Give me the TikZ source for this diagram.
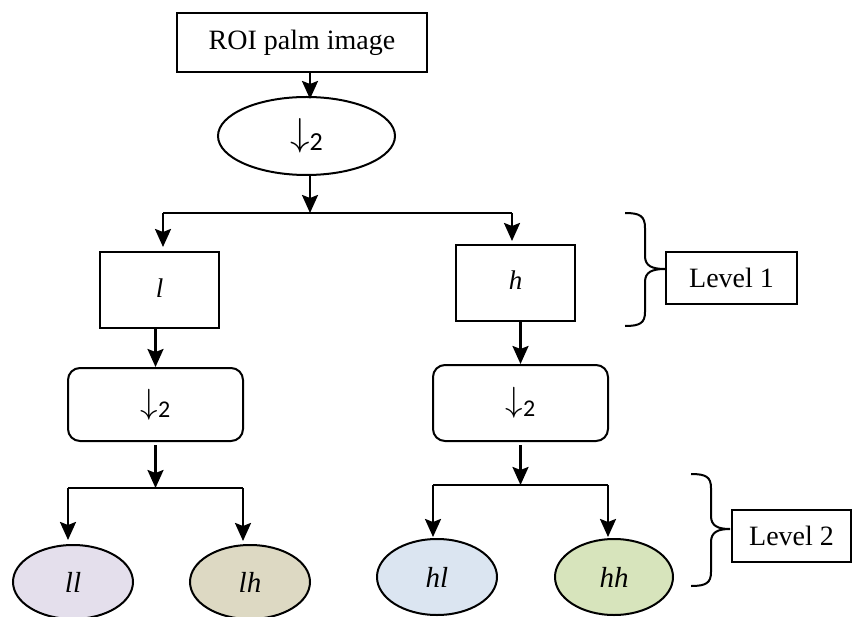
\RequirePackage{fix-cm}
\documentclass[tikz,border=0pt]{standalone}
\usepackage{fontspec}
\setmainfont{Liberation Serif}
\newfontfamily\subfont{Carlito}
\usetikzlibrary{arrows.meta,shapes.geometric,calc}
\definecolor{cll}{HTML}{E4DFEC}
\definecolor{clh}{HTML}{DDD9C3}
\definecolor{chl}{HTML}{DBE5F1}
\definecolor{chh}{HTML}{D7E4BC}
\newcommand{\dsamp}[2]{{\fontsize{#1}{#1}\selectfont$\downarrow$}\raisebox{-0.45em}{\subfont\fontsize{#2}{#2}\selectfont 2}}
\begin{document}
\begin{tikzpicture}[x=1pt,y=-1pt,
  boxst/.style={draw,line width=2pt,rectangle,inner sep=0pt,font=\fontsize{28}{32}\selectfont},
  rbox/.style={draw,line width=2pt,rectangle,rounded corners=12pt,inner sep=0pt},
  ell/.style={draw,line width=2pt,ellipse,inner sep=0pt,font=\fontsize{29}{34}\selectfont\itshape},
  arr/.style={line width=2.5pt,-{Stealth[length=18pt,width=16pt,inset=3pt]}},
  ln/.style={line width=2.5pt},
  brace/.style={line width=2pt}]
\clip (0,0) rectangle (853,617);
% top
\node[ell,minimum width=177pt,minimum height=78pt,font=\upshape] (e1) at (306.5,136) {\dsamp{39}{26}};
\node[boxst,minimum width=250pt,minimum height=59pt] (roi) at (302,42.5) {ROI palm image};
\coordinate (c1) at (310,213);
\coordinate (a1) at (163,213);
\coordinate (a2) at (512,213);
\draw[arr] (roi.south -| c1) -- ($(e1.north -| c1)+(0,3)$);
\draw[arr] (e1.south -| c1) -- (c1);
\draw[ln] (a1) -- (a2);
% level 1 boxes
\node[boxst,minimum width=119pt,minimum height=76pt,font=\fontsize{27}{30}\selectfont\itshape] (lb) at (159.5,290) {\raisebox{4pt}{l}};
\node[boxst,minimum width=119pt,minimum height=76pt,font=\fontsize{27}{30}\selectfont\itshape] (hb) at (515.5,283) {\raisebox{5pt}{h}};
\draw[arr,shorten >=4pt] (a1) -- (a1 |- lb.north);
\draw[arr,shorten >=3pt] (a2) -- (a2 |- hb.north);
% down-sampling boxes
\node[rbox,minimum width=175pt,minimum height=73pt] (d1) at (155.5,404.5) {\dsamp{35}{24}};
\node[rbox,minimum width=175pt,minimum height=76pt] (d2) at (520.5,403) {\dsamp{35}{24}};
\draw[arr] (lb.south -| d1.north) -- (d1.north);
\draw[arr] (hb.south -| d2.north) -- (d2.north);
\coordinate (j1) at (155.5,488);
\coordinate (j1l) at (68,488);
\coordinate (j1r) at (243,488);
\coordinate (j2) at (520.5,485);
\coordinate (j2l) at (433,485);
\coordinate (j2r) at (608,485);
\draw[arr] ($(d1.south)+(0,3)$) -- (j1);
\draw[arr] ($(d2.south)+(0,3)$) -- (j2);
\draw[ln] (j1l) -- (j1r);
\draw[ln] (j2l) -- (j2r);
% leaves
\node[ell,fill=cll,minimum width=120pt,minimum height=74pt] (ll) at (73,582) {ll};
\node[ell,fill=clh,minimum width=120pt,minimum height=74pt] (lh) at (250,582) {lh};
\node[ell,fill=chl,minimum width=120pt,minimum height=76pt] (hl) at (437,577) {hl};
\node[ell,fill=chh,minimum width=118pt,minimum height=76pt] (hh) at (614,577) {hh};
\draw[arr,shorten >=4pt] (j1l) -- (j1l |- ll.north);
\draw[arr,shorten >=3pt] (j1r) -- (j1r |- lh.north);
\draw[arr,shorten >=1pt] (j2l) -- (j2l |- hl.north);
\draw[arr,shorten >=1pt] (j2r) -- (j2r |- hh.north);
% level labels
\node[boxst,minimum width=131pt,minimum height=52pt] (lv1) at (731.5,278) {Level 1};
\node[boxst,minimum width=119pt,minimum height=52pt] (lv2) at (791.5,536) {Level 2};
\draw[brace] (625,213) .. controls (640,213) and (645,216) .. (645,228) -- (645,256) .. controls (645,266) and (652,269) .. (665,269) .. controls (652,269) and (645,272) .. (645,282) -- (645,312) .. controls (645,323) and (640,326) .. (625,326);
\draw[brace] (691,474) .. controls (706,474) and (711,477) .. (711,488) -- (711,516) .. controls (711,526) and (718,529) .. (730,529) .. controls (718,529) and (711,532) .. (711,542) -- (711,572) .. controls (711,583) and (706,586) .. (691,586);
\end{tikzpicture}
\end{document}
